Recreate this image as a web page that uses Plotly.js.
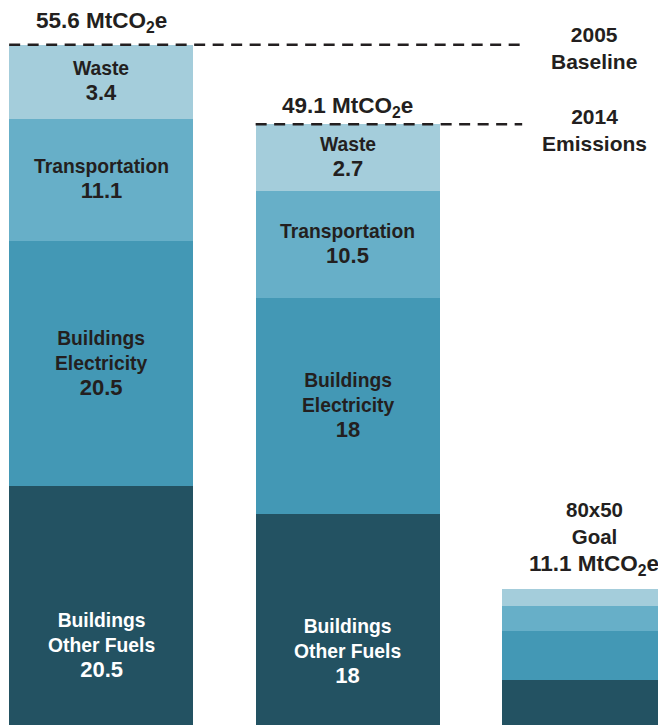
<!DOCTYPE html>
<html>
<head>
<meta charset="utf-8">
<script src="https://cdn.plot.ly/plotly-3.0.1.min.js"></script>
<style>
  html, body { margin: 0; padding: 0; background: #ffffff; }
  #chart { width: 658px; height: 725px; }
</style>
</head>
<body>
<div id="chart"></div>
<script>
// ---- data ----
var categories = ['2005 Baseline', '2014 Emissions', '80x50 Goal'];
var totals = [55.6, 49.1, 11.1];
var totalLabels = ['55.6', '49.1', '11.1'];

// drawn segment heights (MtCO2e, as measured from the bars)
var fuelsHeight = [19.53, 17.25, 3.68];
var electricityHeight = [20.03, 17.65, 4.00];
var transportHeight = [9.97, 8.74, 2.05];
var wasteHeight = [6.07, 5.46, 1.37];

// printed segment values
var fuelsLabel = ['20.5', '18', ''];
var electricityLabel = ['20.5', '18', ''];
var transportLabel = ['11.1', '10.5', ''];
var wasteLabel = ['3.4', '2.7', ''];

var seriesNames = ['Buildings<br>Other Fuels', 'Buildings<br>Electricity', 'Transportation', 'Waste'];

// ---- styling ----
var colors = ['#235262', '#4398B5', '#67AFC8', '#A4CDDB'];
var textColors = ['#ffffff', '#231F20', '#231F20', '#231F20'];
var FONT = 'Liberation Sans, Arial, Helvetica, sans-serif';
var DARK = '#231F20';
var barWidth = 0.7465;
var fuelLabelShift = [-40, -33, 0];

var xIdx = categories.map(function (c, i) { return i; });
var heights = [fuelsHeight, electricityHeight, transportHeight, wasteHeight];
var labels = [fuelsLabel, electricityLabel, transportLabel, wasteLabel];

var traces = heights.map(function (h, s) {
  return {
    type: 'bar',
    x: xIdx,
    y: h,
    width: barWidth,
    name: seriesNames[s].replace('<br>', ' '),
    marker: { color: colors[s], line: { width: 0 } },
    hoverinfo: 'skip'
  };
});

var annotations = [];
// inside segment labels
xIdx.forEach(function (xi) {
  var base = 0;
  heights.forEach(function (h, s) {
    var mid = base + h[xi] / 2;
    base += h[xi];
    if (!labels[s][xi]) return;
    annotations.push({
      x: xi, y: mid, xref: 'x', yref: 'y',
      text: seriesNames[s] + '<br><span style="font-size:22px">' + labels[s][xi] + '</span>',
      showarrow: false,
      xanchor: 'center', yanchor: 'middle',
      yshift: s === 0 ? fuelLabelShift[xi] : 0,
      font: { family: FONT, size: 19.3, color: textColors[s], weight: 'bold' },
      align: 'center'
    });
  });
});

// totals above bars
var totalShift = [23, 17, 24];
xIdx.forEach(function (xi) {
  annotations.push({
    x: xi, y: totals[xi], xref: 'x', yref: 'y',
    text: totalLabels[xi] + ' MtCO<sub>2</sub>e',
    showarrow: false, xanchor: 'center', yanchor: 'middle',
    yshift: totalShift[xi],
    font: { family: FONT, size: 22.5, color: DARK, weight: 'bold' }
  });
});

// goal label
annotations.push({
  x: 2, y: totals[2], xref: 'x', yref: 'y',
  text: '80x50<br>Goal', showarrow: false,
  xanchor: 'center', yanchor: 'middle', yshift: 66,
  font: { family: FONT, size: 20.5, color: DARK, weight: 'bold' }
});

// right-side line labels
annotations.push({
  x: 2, y: totals[0], xref: 'x', yref: 'y',
  text: '2005<br>Baseline', showarrow: false,
  xanchor: 'center', yanchor: 'middle', yshift: -3,
  font: { family: FONT, size: 21, color: DARK, weight: 'bold' }
});
annotations.push({
  x: 2, y: totals[1], xref: 'x', yref: 'y',
  text: '2014<br>Emissions', showarrow: false,
  xanchor: 'center', yanchor: 'middle', yshift: -6,
  font: { family: FONT, size: 21, color: DARK, weight: 'bold' }
});

// dashed reference lines
var dashEnd = 1.708;
var shapes = [0, 1].map(function (xi) {
  return {
    type: 'line', xref: 'x', yref: 'y',
    x0: xi - barWidth / 2, x1: dashEnd,
    y0: totals[xi], y1: totals[xi],
    line: { color: DARK, width: 2.5, dash: '11px,7.5px' },
    layer: 'above'
  };
});

var layout = {
  width: 658, height: 725,
  margin: { l: 0, r: 0, t: 0, b: 0, pad: 0 },
  paper_bgcolor: '#ffffff', plot_bgcolor: '#ffffff',
  barmode: 'stack',
  showlegend: false,
  xaxis: { range: [-0.4104, 2.2590], visible: false, fixedrange: true },
  yaxis: { range: [0, 59.255], visible: false, fixedrange: true },
  annotations: annotations,
  shapes: shapes
};

Plotly.newPlot('chart', traces, layout, { displayModeBar: false, staticPlot: true });
</script>
</body>
</html>
